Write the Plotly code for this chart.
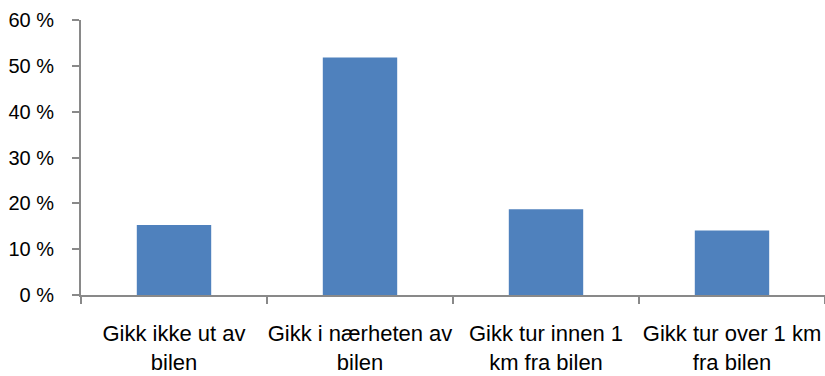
import plotly.graph_objects as go

categories = ["Gikk ikke ut av<br>bilen", "Gikk i nærheten av<br>bilen",
              "Gikk tur innen 1<br>km fra bilen", "Gikk tur over 1 km<br>fra bilen"]
shares = [15.3, 51.8, 18.7, 14.1]
y_ticks = [0, 10, 20, 30, 40, 50, 60]
y_tick_text = [f"{v} %" for v in y_ticks]

family = "Liberation Sans, Arial, sans-serif"
x_font = dict(family=family, size=22, color="#000000")
y_font = dict(family=family, size=20, color="#000000")

fig = go.Figure(go.Bar(x=categories, y=shares, marker=dict(color="#4f81bd", line=dict(width=0))))

fig.update_layout(
    width=825, height=376,
    margin=dict(l=81, r=0, t=20, b=81, autoexpand=False),
    plot_bgcolor="white", paper_bgcolor="white",
    bargap=0.6, showlegend=False, font=x_font,
)
fig.update_xaxes(
    showline=True, linecolor="#898989", linewidth=2,
    ticks="outside", tickson="boundaries", ticklen=7, tickcolor="#898989", tickwidth=2,
    tickfont=x_font, tickangle=0, automargin=False, ticklabelstandoff=18, showgrid=False,
)
fig.update_yaxes(
    range=[0, 60], tickvals=y_ticks, ticktext=y_tick_text,
    showline=True, linecolor="#898989", linewidth=2,
    ticks="outside", ticklen=7, tickcolor="#898989", tickwidth=2,
    tickfont=y_font, automargin=False, ticklabelstandoff=14, showgrid=False, zeroline=False,
)

fig.write_html("out.html")
